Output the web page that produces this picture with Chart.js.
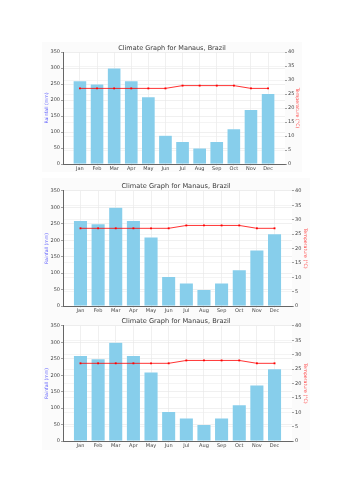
<!DOCTYPE html>
<html>
<head>
<meta charset="utf-8">
<script src="https://cdn.jsdelivr.net/npm/chart.js@4.4.1/dist/chart.umd.min.js"></script>
<style>
    body { margin: 0; background: #ffffff; width: 353px; height: 500px; position: relative; overflow: hidden; }
    canvas { position: absolute; }
</style>
</head>
<body>
<canvas id="chart1" width="260" height="130" style="left:42px;top:42px"></canvas>
<canvas id="chart2" width="268" height="135" style="left:42px;top:178px"></canvas>
<canvas id="chart3" width="268" height="137" style="left:42px;top:313px"></canvas>
<script>
// Climate data for Manaus
const months = ['Jan', 'Feb', 'Mar', 'Apr', 'May', 'Jun', 'Jul', 'Aug', 'Sep', 'Oct', 'Nov', 'Dec'];
const rainfall = [260, 250, 300, 260, 210, 90, 70, 50, 70, 110, 170, 220];
const temperature = [27, 27, 27, 27, 27, 27, 28, 28, 28, 28, 27, 27];
const rainTicks = [0, 50, 100, 150, 200, 250, 300, 350];
const tempTicks = [0, 5, 10, 15, 20, 25, 30, 35, 40];
const chartTitle = 'Climate Graph for Manaus, Brazil';

const FONT = 'DejaVu Sans';

// per-canvas layout: axis box sizes so the plot areas line up with the picture
const layouts = {
    chart1: { yLeft: 21, yRight: 17, xHeight: 8, titleSize: 6.5, titleTop: 2.1, titleBottom: 0.1 },
    chart2: { yLeft: 21, yRight: 18, xHeight: 7, titleSize: 6.6, titleTop: 4.0, titleBottom: 1.0 },
    chart3: { yLeft: 21, yRight: 18, xHeight: 9, titleSize: 6.6, titleTop: 4.0, titleBottom: 1.0 }
};

const bgPlugin = {
    id: 'figure_background',
    beforeDraw: (chart) => {
        const ctx = chart.ctx;
        const a = chart.chartArea;
        ctx.save();
        ctx.fillStyle = '#fbfbfb';
        ctx.fillRect(0, 0, chart.width, chart.height);
        ctx.fillStyle = '#ffffff';
        ctx.fillRect(a.left, a.top, a.right - a.left, a.bottom - a.top);
        ctx.restore();
    }
};

function makeChart(id) {
    const lay = layouts[id];
    const ctx = document.getElementById(id).getContext('2d');
    return new Chart(ctx, {
        type: 'bar',
        data: {
            datasets: [
                {
                    type: 'line',
                    label: 'Temperature (°C)',
                    data: temperature.map((v, i) => ({ x: i, y: v })),
                    yAxisID: 'y1',
                    borderColor: 'rgba(255, 0, 0, 0.8)',
                    backgroundColor: '#ff0000',
                    borderWidth: 1,
                    pointRadius: 1.3,
                    pointBorderWidth: 0,
                    pointStyle: 'rect',
                    order: 0
                },
                {
                    label: 'Rainfall (mm)',
                    data: rainfall.map((v, i) => ({ x: i, y: v })),
                    yAxisID: 'y',
                    backgroundColor: '#87ceeb',
                    borderColor: 'rgba(255, 255, 255, 0.4)',
                    borderWidth: 0.5,
                    barPercentage: 0.8,
                    categoryPercentage: 1.0,
                    order: 1
                }
            ]
        },
        options: {
            responsive: false,
            animation: false,
            devicePixelRatio: 1,
            layout: { padding: 0 },
            plugins: {
                legend: { display: false },
                tooltip: { enabled: false },
                title: {
                    display: true,
                    text: chartTitle,
                    color: '#3a3a3a',
                    font: { family: FONT, size: lay.titleSize, weight: 'normal' },
                    padding: { top: lay.titleTop, bottom: lay.titleBottom }
                }
            },
            scales: {
                x: {
                    type: 'linear',
                    min: -0.99,
                    max: 11.99,
                    offset: false,
                    afterBuildTicks: (s) => { s.ticks = months.map((m, i) => ({ value: i })); },
                    afterFit: (s) => { s.height = lay.xHeight; },
                    ticks: {
                        autoSkip: false,
                        maxRotation: 0,
                        padding: 0.3,
                        color: '#444444',
                        font: { family: FONT, size: 5 },
                        callback: (v) => months[v]
                    },
                    grid: { offset: false, color: '#e6e6e6', lineWidth: 0.6, tickLength: 1.2, tickColor: '#666666' },
                    border: { color: '#666666', width: 1 }
                },
                y: {
                    position: 'left',
                    min: 0,
                    max: 350,
                    afterBuildTicks: (s) => { s.ticks = rainTicks.map(v => ({ value: v })); },
                    afterFit: (s) => { s.width = lay.yLeft; },
                    ticks: { padding: 1, color: '#444444', font: { family: FONT, size: 5 } },
                    grid: { color: '#e6e6e6', lineWidth: 0.6, tickLength: 2, tickColor: '#666666' },
                    border: { color: '#666666', width: 1 },
                    title: {
                        display: true,
                        text: 'Rainfall (mm)',
                        color: '#5c5cff',
                        font: { family: FONT, size: 4.6 },
                        padding: { top: 2.0, bottom: 0 }
                    }
                },
                y1: {
                    position: 'right',
                    min: 0,
                    max: 40,
                    afterBuildTicks: (s) => { s.ticks = tempTicks.map(v => ({ value: v })); },
                    afterFit: (s) => { s.width = lay.yRight; },
                    ticks: { padding: 1, color: '#444444', font: { family: FONT, size: 5 } },
                    grid: { color: '#ececec', lineWidth: 0.6, tickLength: 2, tickColor: '#666666' },
                    border: { display: false },
                    title: {
                        display: true,
                        text: 'Temperature (°C)',
                        color: '#ff4a4a',
                        font: { family: FONT, size: 4.7 },
                        padding: { top: 2.3, bottom: 0 }
                    }
                }
            }
        },
        plugins: [bgPlugin]
    });
}

makeChart('chart1');
makeChart('chart2');
makeChart('chart3');
</script>
</body>
</html>
